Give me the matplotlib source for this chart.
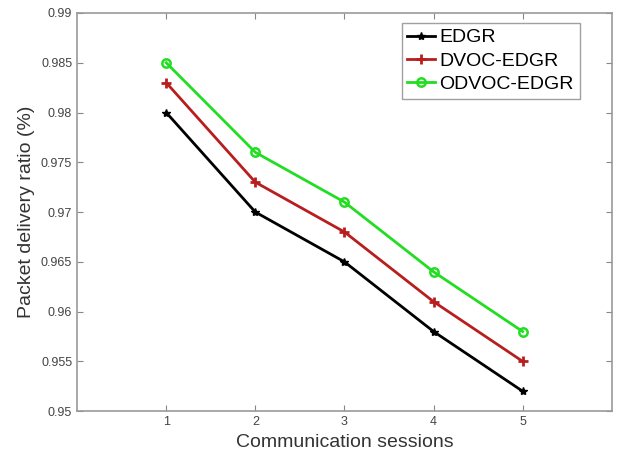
import matplotlib.pyplot as plt

sessions = [1, 2, 3, 4, 5]
edgr = [0.980, 0.970, 0.965, 0.958, 0.952]
dvoc_edgr = [0.983, 0.973, 0.968, 0.961, 0.955]
odvoc_edgr = [0.985, 0.976, 0.971, 0.964, 0.958]

plt.rcParams['font.family'] = ['Liberation Sans', 'DejaVu Sans']

fig = plt.figure(figsize=(6.32, 4.63), dpi=100)
ax = fig.add_axes([0.122, 0.112, 0.846, 0.860])

ax.plot(sessions, edgr, color='black', lw=2, marker='*', ms=6, label='EDGR')
ax.plot(sessions, dvoc_edgr, color='#b81e1e', lw=2, marker='+', ms=7, mew=2, label='DVOC-EDGR')
ax.plot(sessions, odvoc_edgr, color='#22dd22', lw=2, marker='o', ms=6,
        mfc='none', mew=1.8, label='ODVOC-EDGR')

ax.set_xlim(0, 6)
ax.set_ylim(0.95, 0.99)
ax.set_xticks(sessions)
ax.set_yticks([0.95, 0.955, 0.96, 0.965, 0.97, 0.975, 0.98, 0.985, 0.99])
ax.set_yticklabels(['0.95', '0.955', '0.96', '0.965', '0.97', '0.975', '0.98', '0.985', '0.99'])
ax.tick_params(direction='in', length=4, colors='#888888', labelcolor='#444444',
               labelsize=9, top=True, right=True)
for s in ax.spines.values():
    s.set_color('#999999')
    s.set_linewidth(1.2)

ax.set_xlabel('Communication sessions', fontsize=14, color='#333333')
ax.set_ylabel('Packet delivery ratio (%)', fontsize=14, color='#333333')

leg = ax.legend(loc='upper right', bbox_to_anchor=(0.940, 0.975), fontsize=14,
                frameon=True, fancybox=False, handlelength=1.4, handletextpad=0.25,
                borderpad=0.3, labelspacing=0.3, borderaxespad=0)
leg.get_frame().set_edgecolor('#888888')
leg.get_frame().set_linewidth(1)

fig.savefig('out.png', dpi=100)
